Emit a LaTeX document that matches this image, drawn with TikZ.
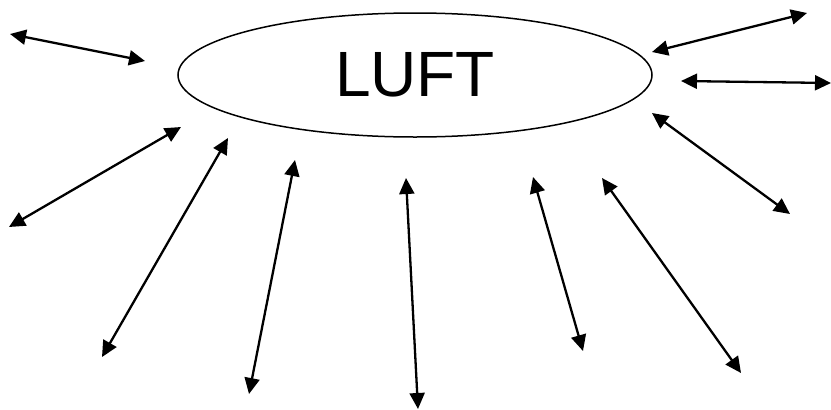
\documentclass[tikz,border=0pt]{standalone}
\usepackage{fontspec}
\setmainfont{Liberation Sans}
\usetikzlibrary{shapes.geometric, arrows.meta}
\tikzset{
  x=1pt, y=-1pt,
  link/.style={line width=2.3pt, {Triangle[length=16pt,width=15pt]}-{Triangle[length=16pt,width=15pt]}},
  cloud/.style={ellipse, draw, line width=1.5pt, minimum width=474pt, minimum height=124pt, inner sep=0pt},
}

\begin{document}
\begin{tikzpicture}
      \useasboundingbox (0,0) rectangle (831,410);

      \node[cloud, font=\fontsize{64}{70}\selectfont] (luft) at (415,75) {LUFT};

      % free ends of the arrows
      \foreach \n/\ax/\ay/\bx/\by in {
          a/10/34/145/61,    b/9/227/181/127,   c/102/357/228/138,
          d/249/394/295/160, e/406/178/418/409, f/533/177/583/351,
          g/602/178/741/373, h/652/113/790/214, i/652/52/807/13,
          j/681/81/831/83}
      {
        \coordinate (\n1) at (\ax,\ay);
        \coordinate (\n2) at (\bx,\by);
        \draw[link] (\n1) -- (\n2);
      }
    \end{tikzpicture}
\end{document}
